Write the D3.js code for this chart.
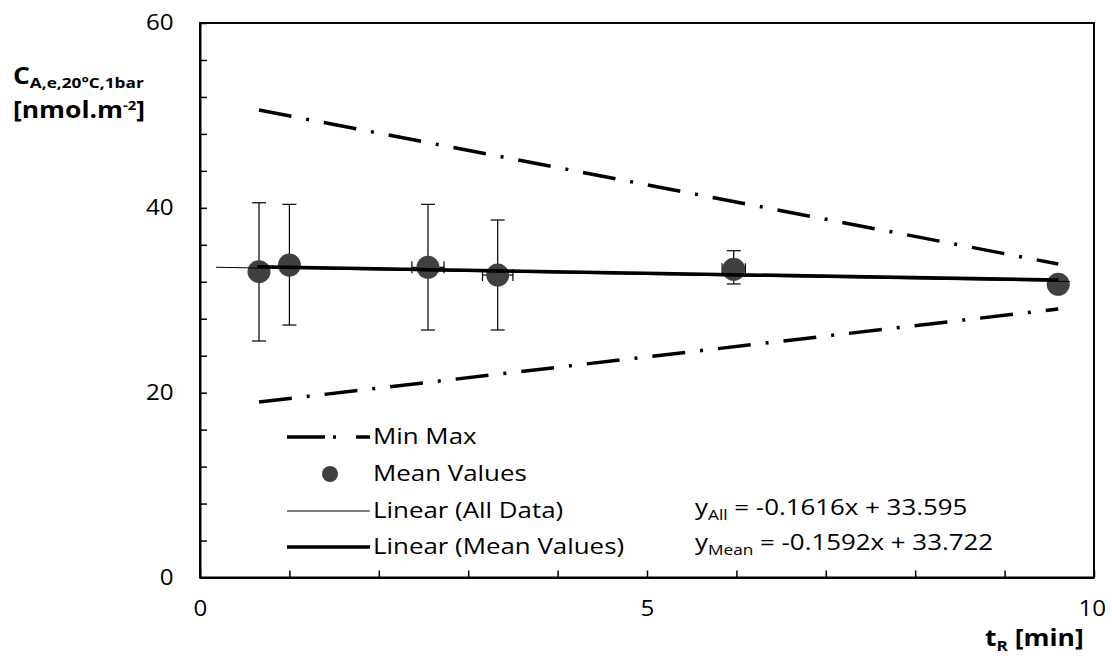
<!DOCTYPE html>
<html>
<head>
<meta charset="utf-8">
<title>CA vs tR</title>
<script src="https://d3js.org/d3.v7.min.js"></script>
<style>
  body { margin: 0; background: #fff; }
  text { font-family: "Open Sans", sans-serif; fill: #000; }
</style>
</head>
<body>
<div id="chart"></div>
<script>
// mean values with error bars
var tR = [0.66, 1.0, 2.55, 3.33, 5.97, 9.6];
var meanC = [33.09, 33.81, 33.56, 32.73, 33.35, 31.72];
var errLow = [25.59, 27.32, 26.78, 26.78, 31.76, null];
var errHigh = [40.55, 40.38, 40.38, 38.68, 35.36, null];
var xErr = [0, 0, 0.18, 0.17, 0.13, 0];

// min / max envelope
var envX = [0.66, 9.6];
var maxC = [50.58, 33.92];
var minC = [18.99, 29.05];

// trend lines
var fitAll = { slope: -0.1616, icpt: 33.595, from: 0.18, to: 9.73 };
var fitMean = { slope: -0.1592, icpt: 33.722, from: 0.64, to: 9.6 };

var xTicks = d3.range(0, 11, 1);
var xLabels = [0, 5, 10];
var yTicks = d3.range(0, 61, 4);
var yLabels = [0, 20, 40, 60];

var W = 1112, H = 659;
var SX = 1.15; // horizontal stretch of the text
var svg = d3.select("#chart").append("svg").attr("width", W).attr("height", H);

var x = d3.scaleLinear().domain([0, 10]).range([200, 1094]);
var y = d3.scaleLinear().domain([0, 60]).range([577.5, 23]);

function txt(parent, tx, ty, size) {
  return parent.append("text")
    .attr("transform", "translate(" + tx + "," + ty + ") scale(" + SX + ",1)")
    .attr("font-size", size);
}

// frame
svg.append("rect")
  .attr("x", x(0)).attr("y", y(60))
  .attr("width", x(10) - x(0)).attr("height", y(0) - y(60))
  .attr("fill", "none").attr("stroke", "#000").attr("stroke-width", 2);

// axes
var xAxis = svg.append("g")
  .attr("transform", "translate(0," + y(0) + ")")
  .call(d3.axisBottom(x).tickValues(xTicks).tickSizeInner(-7).tickSizeOuter(0).tickPadding(24)
    .tickFormat(function (d) { return xLabels.indexOf(d) >= 0 ? d : ""; }));
var yAxis = svg.append("g")
  .attr("transform", "translate(" + x(0) + ",0)")
  .call(d3.axisLeft(y).tickValues(yTicks).tickSizeInner(-7).tickSizeOuter(0).tickPadding(23)
    .tickFormat(function (d) { return yLabels.indexOf(d) >= 0 ? d : ""; }));
[xAxis, yAxis].forEach(function (g) {
  g.select(".domain").attr("stroke-width", 2);
  g.selectAll(".tick line").attr("stroke-width", 1.5);
  g.selectAll(".tick text").attr("font-size", 21).attr("font-family", null)
    .attr("transform", "scale(" + SX + ",1)");
});
xAxis.selectAll(".tick text").filter(function (d) { return d === 10; }).attr("dx", -2);

// min max dash-dot lines
var line = d3.line().x(function (d) { return x(d[0]); }).y(function (d) { return y(d[1]); });
[maxC, minC].forEach(function (arr) {
  svg.append("path")
    .datum(envX.map(function (v, i) { return [v, arr[i]]; }))
    .attr("d", line)
    .attr("fill", "none").attr("stroke", "#000").attr("stroke-width", 3.5)
    .attr("stroke-dasharray", "33,15,3,15");
});

// error bars
var pts = tR.map(function (v, i) {
  return { x: v, y: meanC[i], lo: errLow[i], hi: errHigh[i], dx: xErr[i] };
});
var eb = svg.append("g").attr("stroke", "#000").attr("stroke-width", 1.2);
pts.filter(function (d) { return d.lo !== null; }).forEach(function (d) {
  eb.append("line").attr("x1", x(d.x)).attr("x2", x(d.x)).attr("y1", y(d.lo)).attr("y2", y(d.hi));
  [d.lo, d.hi].forEach(function (v) {
    eb.append("line").attr("x1", x(d.x) - 7).attr("x2", x(d.x) + 7).attr("y1", y(v)).attr("y2", y(v));
  });
  if (d.dx > 0) {
    eb.append("line").attr("x1", x(d.x - d.dx)).attr("x2", x(d.x + d.dx)).attr("y1", y(d.y)).attr("y2", y(d.y));
    [d.x - d.dx, d.x + d.dx].forEach(function (v) {
      eb.append("line").attr("x1", x(v)).attr("x2", x(v)).attr("y1", y(d.y) - 6).attr("y2", y(d.y) + 6);
    });
  }
});

// markers
svg.append("g").selectAll("circle").data(pts).join("circle")
  .attr("cx", function (d) { return x(d.x); })
  .attr("cy", function (d) { return y(d.y); })
  .attr("r", 11.5).attr("fill", "#404040");

// trend lines
function fitPts(f) { return [[f.from, f.slope * f.from + f.icpt], [f.to, f.slope * f.to + f.icpt]]; }
svg.append("path").datum(fitPts(fitAll)).attr("d", line)
  .attr("fill", "none").attr("stroke", "#000").attr("stroke-width", 1);
svg.append("path").datum(fitPts(fitMean)).attr("d", line)
  .attr("fill", "none").attr("stroke", "#000").attr("stroke-width", 3.5);

// legend
var leg = svg.append("g");
var rows = [
  { label: "Min Max", y: 444 },
  { label: "Mean Values", y: 481 },
  { label: "Linear (All Data)", y: 518 },
  { label: "Linear (Mean Values)", y: 554 }
];
rows.forEach(function (r) {
  txt(leg, 373, r.y, 22.5).text(r.label);
});
leg.append("line").attr("x1", 287).attr("x2", 370).attr("y1", 437).attr("y2", 437)
  .attr("stroke", "#000").attr("stroke-width", 3.5).attr("stroke-dasharray", "38,8,3,20,14");
leg.append("circle").attr("cx", 330).attr("cy", 474).attr("r", 8).attr("fill", "#404040");
leg.append("line").attr("x1", 287).attr("x2", 370).attr("y1", 511).attr("y2", 511)
  .attr("stroke", "#000").attr("stroke-width", 1);
leg.append("line").attr("x1", 287).attr("x2", 370).attr("y1", 547).attr("y2", 547)
  .attr("stroke", "#000").attr("stroke-width", 3.5);

// equations
function eq(sub, f, yy) {
  var t = txt(svg, 695, yy, 22.5);
  t.append("tspan").text("y");
  t.append("tspan").attr("font-size", 15).attr("dy", 5).text(sub);
  t.append("tspan").attr("dy", -5).text(" = " + f.slope + "x + " + f.icpt.toFixed(3));
}
eq("All", fitAll, 515);
eq("Mean", fitMean, 550);

// axis titles
var yt = txt(svg, 13, 84, 23).attr("font-weight", "bold");
yt.append("tspan").text("C");
yt.append("tspan").attr("font-size", 15).attr("dy", 4).text("A,e,20°C,1bar");
var yt2 = txt(svg, 13, 118, 23).attr("font-weight", "bold");
yt2.append("tspan").text("[nmol.m");
yt2.append("tspan").attr("font-size", 13).attr("dy", -8).text("-2");
yt2.append("tspan").attr("dy", 8).text("]");

var xt = txt(svg, 985, 646, 23).attr("font-weight", "bold");
xt.append("tspan").text("t");
xt.append("tspan").attr("font-size", 15).attr("dy", 5).text("R");
xt.append("tspan").attr("dy", -5).text(" [min]");
</script>
</body>
</html>
